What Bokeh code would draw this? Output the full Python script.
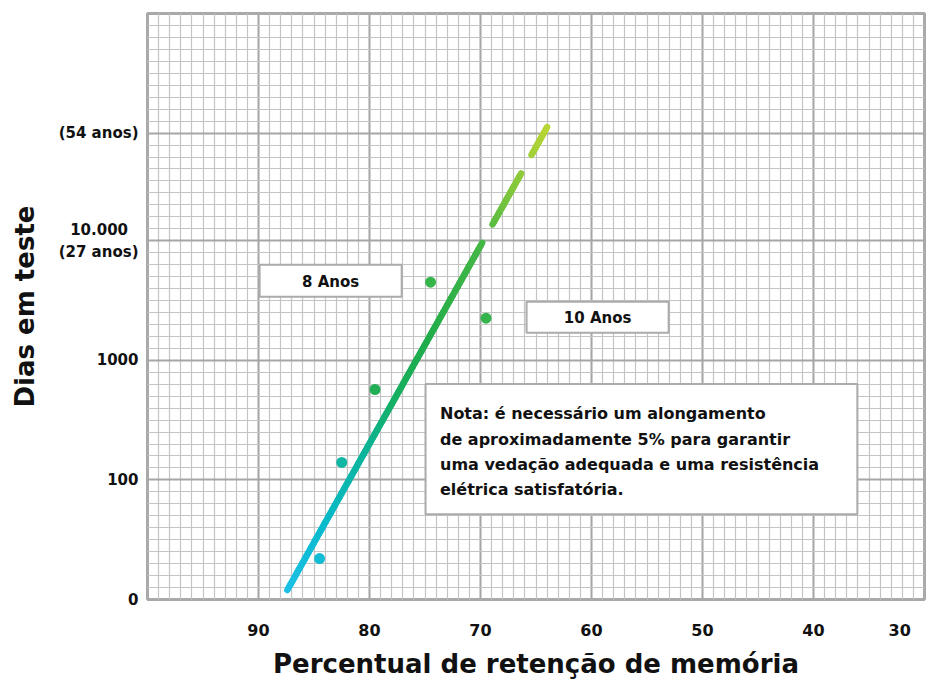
import numpy as np
from bokeh.plotting import figure
from bokeh.models import FixedTicker, Range1d, Label
from bokeh.embed import file_html
from bokeh.resources import INLINE

# ---------------- data ----------------
retention_pct = [84.5, 82.5, 79.5, 74.5, 69.5]
test_days = [22, 140, 570, 4500, 2250]

trend_pct = [87.4, 64.0]
trend_days = [12, 89000]

x_ticks = [90, 80, 70, 60, 50, 40, 30]
y_ticks = [10, 100, 1000, 10000, 79433]
y_tick_labels = ["0", "100", "1000", "10.000\u00a0\u00a0\n(27 anos)", "(54 anos)"]

note_lines = [
    "Nota: é necessário um alongamento",
    "de aproximadamente 5% para garantir",
    "uma vedação adequada e uma resistência",
    "elétrica satisfatória.",
]

# ---------------- style ----------------
FONT = "DejaVu Sans"
INK = "#111111"
point_colors = ["#12bcd4", "#12b6a4", "#22ae55", "#36b64a", "#34b44a"]
stops_t = [0.0, 0.15, 0.30, 0.42, 0.55, 0.75, 0.88, 1.0]
stops_c = ["#1cc1e6", "#07bacb", "#0bb49a", "#17af62", "#22ad4a", "#45b746", "#86c83a", "#b8d535"]
solid_and_dashes = [(0.0, 0.75), (0.79, 0.90), (0.94, 1.0)]


def hex2rgb(h):
    return np.array([int(h[i:i + 2], 16) for i in (1, 3, 5)], dtype=float)


stop_rgb = np.array([hex2rgb(c) for c in stops_c])


def color_at(t):
    rgb = [np.interp(t, stops_t, stop_rgb[:, k]) for k in range(3)]
    return "#%02x%02x%02x" % tuple(int(round(v)) for v in rgb)


p = figure(
    width=927, height=681,
    x_range=Range1d(100, 30), y_range=Range1d(10, 10 ** 5.9),
    y_axis_type="log",
    output_backend="svg", toolbar_location=None,
    min_border_left=147, min_border_right=3, min_border_top=13, min_border_bottom=81,
    background_fill_color="white", border_fill_color="white",
)

# frame
p.outline_line_color = "#a9a9a9"
p.outline_line_width = 3
p.outline_line_alpha = 1.0

# tickers / grid
xt = FixedTicker(ticks=x_ticks, minor_ticks=list(range(31, 100)))
yt = FixedTicker(ticks=y_ticks, minor_ticks=[10 ** (1 + k / 10) for k in range(50)])
p.xaxis.ticker = xt
p.yaxis.ticker = yt
p.xgrid.ticker = xt
p.ygrid.ticker = yt
for g in (p.xgrid, p.ygrid):
    g.grid_line_color = "#a6a6a6"
    g.grid_line_width = 2
    g.minor_grid_line_color = "#c4c4c4"
    g.minor_grid_line_width = 1.2

p.yaxis.major_label_overrides = {t: lab for t, lab in zip(y_ticks, y_tick_labels)}
p.xaxis.major_label_overrides = {30: "30\u00a0\u00a0\u00a0"}

for ax in (p.xaxis, p.yaxis):
    ax.axis_line_color = None
    ax.major_tick_line_color = None
    ax.minor_tick_line_color = None
    ax.major_tick_out = 0
    ax.major_tick_in = 0
    ax.minor_tick_out = 0
    ax.minor_tick_in = 0
    ax.major_label_text_font = FONT
    ax.major_label_text_font_style = "bold"
    ax.major_label_text_color = INK
    ax.axis_label_text_font = FONT
    ax.axis_label_text_font_style = "bold"
    ax.axis_label_text_font_size = "26px"
    ax.axis_label_text_color = INK

p.xaxis.major_label_text_font_size = "16px"
p.yaxis.major_label_text_font_size = "15px"
p.xaxis.major_label_standoff = 21
p.yaxis.major_label_standoff = 9

p.yaxis.axis_label = "Dias em teste"
p.yaxis.axis_label_standoff = 16
p.xaxis.axis_label = "Percentual de retenção de memória"
p.xaxis.axis_label_standoff = 6

# annotation boxes (white, grey border)
box_left = [89.9, 65.85, 74.95]
box_right = [77.1, 53.05, 36.05]
box_top = [6300, 3090, 634]
box_bottom = [3400, 1700, 51.6]
p.quad(left=box_left, right=box_right, top=box_top, bottom=box_bottom,
       fill_color="white", line_color="#ababab", line_width=2)

for x, y, txt in [(83.5, 4550, "8 Anos"), (59.45, 2240, "10 Anos")]:
    p.add_layout(Label(x=x, y=y, text=txt, text_align="center", text_baseline="middle",
                       text_font=FONT, text_font_style="bold", text_font_size="15px",
                       text_color=INK))

for i, line in enumerate(note_lines):
    p.add_layout(Label(x=73.65, y=357, y_offset=-25.3 * i, text=line,
                       text_align="left", text_baseline="middle",
                       text_font=FONT, text_font_style="bold", text_font_size="16px",
                       text_color=INK))

# gradient trend line (solid part + dashed extrapolation)
lx0, lx1 = trend_pct
ly0, ly1 = np.log10(trend_days[0]), np.log10(trend_days[1])
x0s, y0s, x1s, y1s, cols = [], [], [], [], []
for a, b in solid_and_dashes:
    n = max(2, int((b - a) * 150))
    ts = np.linspace(a, b, n + 1)
    for t0, t1 in zip(ts[:-1], ts[1:]):
        x0s.append(lx0 + (lx1 - lx0) * t0)
        y0s.append(10 ** (ly0 + (ly1 - ly0) * t0))
        x1s.append(lx0 + (lx1 - lx0) * t1)
        y1s.append(10 ** (ly0 + (ly1 - ly0) * t1))
        cols.append(color_at((t0 + t1) / 2))
p.segment(x0=x0s, y0=y0s, x1=x1s, y1=y1s, line_color=cols, line_width=6.5, line_cap="round")

# data points
p.scatter(x=retention_pct, y=test_days, size=11, fill_color=point_colors, line_color=None)

open("out.html", "w").write(file_html(p, INLINE))
